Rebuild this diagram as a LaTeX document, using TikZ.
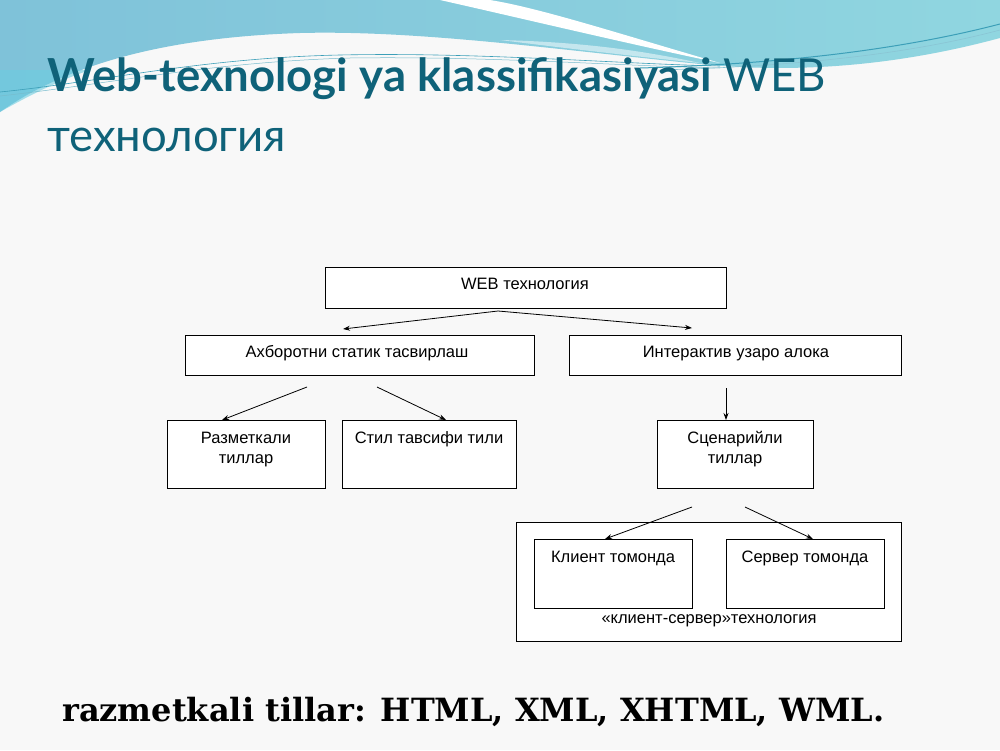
\documentclass[tikz,border=0pt]{standalone}
\usepackage{fontspec}
\setmainfont{Liberation Sans}
\newfontfamily\titlefont{Lato}
\newfontfamily\bottomfont{DejaVu Serif}
\usetikzlibrary{arrows.meta}
\definecolor{bgc}{HTML}{F8F8F8}
\definecolor{titlec}{HTML}{0F6279}
\definecolor{waveL}{HTML}{7FC2D9}
\definecolor{waveR}{HTML}{90D6E0}
\definecolor{waveC}{HTML}{6CCDE0}
\definecolor{strand}{HTML}{3C9FB8}
\begin{document}
\begin{tikzpicture}[x=1pt,y=-1pt,
  box/.style={draw=black,line width=1.1pt,fill=white,inner sep=0pt,anchor=north west},
  lbl/.style={font=\fontsize{16.5}{20}\selectfont,align=center,inner sep=0pt,anchor=base},
  arr/.style={-{Stealth[length=7pt,width=5pt]},line width=0.8pt},
  ttl/.style={anchor=base west,inner sep=0pt,text=titlec,font=\titlefont\fontsize{45.5}{52}\selectfont}]
\useasboundingbox (0,0) rectangle (1000,750);
\fill[bgc] (0,0) rectangle (1000,750);
% top wave background
\shade[left color=waveL,right color=waveR]
  (0,0) -- (1000,0) -- (1000,38)
  .. controls (900,65) and (800,74) .. (700,64)
  .. controls (560,50) and (420,30) .. (300,33)
  .. controls (150,38) and (60,70) .. (0,112) -- cycle;
\fill[waveC,opacity=0.6] (0,112) .. controls (30,95) and (60,80) .. (90,70) -- (0,70) -- cycle;
\fill[white] (440,0) .. controls (520,18) and (620,42) .. (720,63)
  .. controls (620,34) and (540,8) .. (490,0) -- cycle;
\fill[white,opacity=0.5] (500,40) .. controls (580,50) and (650,58) .. (700,63)
  .. controls (640,50) and (580,42) .. (500,40) -- cycle;
\draw[strand,line width=0.6pt] (0,92) .. controls (100,82) and (200,58) .. (340,55)
  .. controls (480,52) and (620,64) .. (720,66);
\draw[strand!70,line width=0.5pt] (0,96) .. controls (110,84) and (210,62) .. (350,58)
  .. controls (490,56) and (620,66) .. (720,68);
\draw[strand,line width=1pt] (640,68) .. controls (780,64) and (900,50) .. (1000,24);
\draw[strand!60,line width=0.6pt] (660,70) .. controls (800,66) and (910,54) .. (1000,30);
% title
\node[ttl] (t1) at (47,91) {\textbf{Web-texnologi ya klassifikasiyasi} WEB};
\node[ttl] (t2) at (47,151) {технология};
% boxes
\node[box,minimum width=401pt,minimum height=41pt] (web) at (325,267) {};
\node[box,minimum width=349pt,minimum height=40pt] (ahb) at (185,335) {};
\node[box,minimum width=332pt,minimum height=40pt] (int) at (569,335) {};
\node[box,minimum width=158pt,minimum height=68pt] (raz) at (167,420) {};
\node[box,minimum width=174pt,minimum height=68pt] (stil) at (342,420) {};
\node[box,minimum width=156pt,minimum height=68pt] (sce) at (657,420) {};
\node[box,minimum width=385pt,minimum height=119pt] (ks) at (516,522) {};
\node[box,minimum width=158pt,minimum height=69pt] (kli) at (534,539) {};
\node[box,minimum width=158pt,minimum height=69pt] (ser) at (726,539) {};
% labels
\node[lbl] (lweb) at (525,289) {WEB технология};
\node[lbl] (lahb) at (357,357) {Ахборотни статик тасвирлаш};
\node[lbl] (lint) at (736,357) {Интерактив узаро алока};
\node[lbl] (lraz) at (246,463) {Разметкали\\тиллар};
\node[lbl] (lstil) at (429,443) {Стил тавсифи тили};
\node[lbl] (lsce) at (735,463) {Сценарийли\\тиллар};
\node[lbl] (lkli) at (613,562) {Клиент томонда};
\node[lbl] (lser) at (805,562) {Сервер томонда};
\node[lbl] (lks) at (709,623) {«клиент-сервер»технология};
% arrow start points
\coordinate (s1) at (498,311);
\coordinate (s2) at (307,387);
\coordinate (s3) at (377,387);
\coordinate (s4) at (726,388);
\coordinate (s5) at (692,507);
\coordinate (s6) at (745,507);
\draw[arr] (s1) -- ([xshift=158pt,yshift=6pt]ahb.north west);
\draw[arr] (s1) -- ([xshift=123pt,yshift=7pt]int.north west);
\draw[arr] (s2) -- ([xshift=55pt]raz.north west);
\draw[arr] (s3) -- ([xshift=104pt]stil.north west);
\draw[arr] (s4) -- ([xshift=69pt]sce.north west);
\draw[arr] (s5) -- ([xshift=71pt]kli.north west);
\draw[arr] (s6) -- ([xshift=87pt]ser.north west);
% bottom text
\node[anchor=base west,inner sep=0pt,font=\bottomfont\bfseries\fontsize{32}{38}\selectfont] (bt) at (62,721) {razmetkali tillar: HTML, XML, XHTML, WML.};
\end{tikzpicture}
\end{document}
